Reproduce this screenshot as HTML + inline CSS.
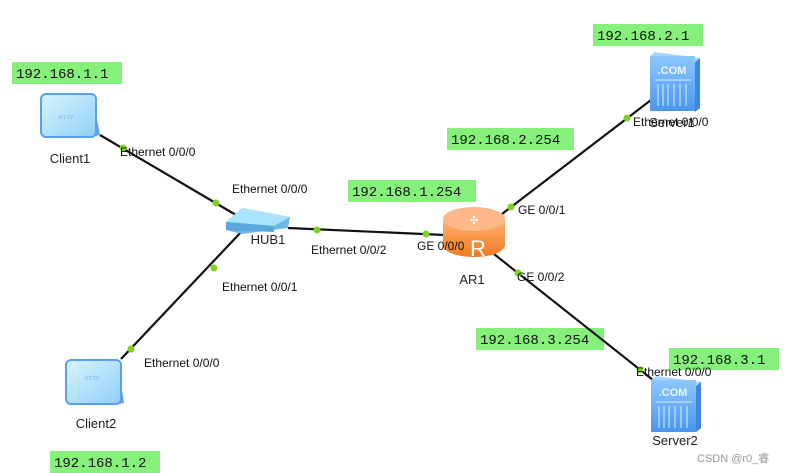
<!DOCTYPE html>
<html><head><meta charset="utf-8"><style>
html,body{margin:0;padding:0;background:#fff;}
svg{display:block;}
.l{font-family:"Liberation Sans",sans-serif;font-size:12px;fill:#111;}
.n{font-family:"Liberation Sans",sans-serif;font-size:13px;fill:#222;}
.ip{font-family:"Liberation Mono",monospace;font-size:14px;fill:#111;}
</style></head><body>
<svg width="785" height="473" viewBox="0 0 785 473" xmlns="http://www.w3.org/2000/svg">
<defs>
<linearGradient id="cl" x1="0" y1="0" x2="1" y2="1"><stop offset="0" stop-color="#d8f4ff"/><stop offset="1" stop-color="#8fd0f5"/></linearGradient>
<linearGradient id="sv" x1="0" y1="0" x2="0" y2="1"><stop offset="0" stop-color="#8cc8ff"/><stop offset="1" stop-color="#4a96ee"/></linearGradient>
<linearGradient id="rt" x1="0" y1="0" x2="0" y2="1"><stop offset="0" stop-color="#ffb070"/><stop offset="1" stop-color="#f07a20"/></linearGradient>
</defs>
<!-- IP boxes -->
<g fill="#85f07a">
<rect x="12" y="62" width="110" height="22"/>
<rect x="593" y="24" width="110" height="22"/>
<rect x="447" y="128" width="127" height="22"/>
<rect x="348" y="180" width="128" height="22"/>
<rect x="476" y="328" width="128" height="22"/>
<rect x="669" y="348" width="110" height="22"/>
<rect x="50" y="451" width="110" height="22"/>
</g>
<text class="ip" x="16" y="78">192.168.1.1</text>
<text class="ip" x="597" y="40">192.168.2.1</text>
<text class="ip" x="451" y="144">192.168.2.254</text>
<text class="ip" x="352" y="196">192.168.1.254</text>
<text class="ip" x="480" y="344">192.168.3.254</text>
<text class="ip" x="673" y="364">192.168.3.1</text>
<text class="ip" x="54" y="467">192.168.1.2</text>
<!-- lines -->
<g stroke="#111" stroke-width="2.2">
<line x1="100" y1="135" x2="236" y2="215"/>
<line x1="288" y1="228" x2="445" y2="235"/>
<line x1="243" y1="230" x2="121" y2="359"/>
<line x1="502" y1="214" x2="651" y2="100"/>
<line x1="494" y1="254" x2="653" y2="380"/>
</g>
<!-- dots -->
<g fill="#7ed321">
<circle cx="123" cy="148" r="3.5"/><circle cx="216" cy="203" r="3.5"/>
<circle cx="317" cy="230" r="3.5"/><circle cx="426" cy="234" r="3.5"/>
<circle cx="214" cy="268" r="3.5"/><circle cx="131" cy="349" r="3.5"/>
<circle cx="511" cy="207" r="3.5"/><circle cx="627" cy="118" r="3.5"/>
<circle cx="518" cy="273" r="3.5"/><circle cx="640" cy="370" r="3.5"/>
</g>
<!-- Client1 -->
<g>
<path d="M92 94 L100 135 L90 137 Z" fill="#5aa0ee"/>
<rect x="41" y="94" width="55" height="43" rx="5" fill="url(#cl)" stroke="#5aa0ee" stroke-width="2"/>
<text x="66" y="119" font-family="Liberation Serif,serif" font-size="6" fill="#7ab8e8" text-anchor="middle">HTTP</text>
</g>
<text class="n" x="70" y="163" text-anchor="middle">Client1</text>
<!-- Client2 -->
<g>
<path d="M117 358 L124 403 L114 405 Z" fill="#5aa0ee"/>
<rect x="66" y="360" width="55" height="44" rx="5" fill="url(#cl)" stroke="#5aa0ee" stroke-width="2"/>
<text x="92" y="380" font-family="Liberation Serif,serif" font-size="6" fill="#7ab8e8" text-anchor="middle">HTTP</text>
</g>
<text class="n" x="96" y="428" text-anchor="middle">Client2</text>
<!-- HUB -->
<g>
<polygon points="226,222 242,208 290,217 288,228 242,234 226,230" fill="#6fb8e8"/>
<polygon points="226,222 242,208 290,217 274,226" fill="#a8e4fb"/>
<polygon points="226,222 274,226 274,232 226,230" fill="#5aa6dd"/>
</g>
<text class="n" x="268" y="244" text-anchor="middle">HUB1</text>
<!-- Router -->
<g>
<path d="M443 220 L443 245 A31 12 0 0 0 505 245 L505 220 Z" fill="url(#rt)"/>
<ellipse cx="474" cy="219" rx="31" ry="12" fill="#ffb88a"/>
<text x="474" y="224" font-family="Liberation Sans,sans-serif" font-size="11" fill="#fff" text-anchor="middle">✣</text>
<text x="478" y="256" font-family="Liberation Sans,sans-serif" font-size="22" fill="#fff" text-anchor="middle">R</text>
</g>
<text class="n" x="472" y="284" text-anchor="middle">AR1</text>
<!-- Server1 -->
<g>
<polygon points="650,56 655,52 700,58 695,62" fill="#aad4ff"/>
<polygon points="695,62 700,58 700,108 695,112" fill="#3e86e0"/>
<rect x="650" y="56" width="45" height="55" fill="url(#sv)"/>
<text x="672" y="74" font-family="Liberation Sans,sans-serif" font-size="11" font-weight="bold" fill="#eef6ff" text-anchor="middle">.COM</text>
<g stroke="#d8ecff" stroke-width="1"><line x1="655" y1="80" x2="691" y2="80"/><line x1="658" y1="84" x2="658" y2="106"/><line x1="663" y1="84" x2="663" y2="106"/><line x1="668" y1="84" x2="668" y2="106"/><line x1="674" y1="84" x2="674" y2="106"/><line x1="680" y1="84" x2="680" y2="106"/><line x1="686" y1="84" x2="686" y2="106"/></g>
</g>
<text class="n" x="672" y="127" text-anchor="middle" fill="#333">Server1</text>
<!-- Server2 -->
<g>
<polygon points="651,380 656,376 701,382 696,386" fill="#aad4ff"/>
<polygon points="696,386 701,382 701,428 696,432" fill="#3e86e0"/>
<rect x="651" y="380" width="45" height="52" fill="url(#sv)"/>
<text x="673" y="396" font-family="Liberation Sans,sans-serif" font-size="11" font-weight="bold" fill="#eef6ff" text-anchor="middle">.COM</text>
<g stroke="#d8ecff" stroke-width="1"><line x1="656" y1="402" x2="692" y2="402"/><line x1="659" y1="406" x2="659" y2="428"/><line x1="664" y1="406" x2="664" y2="428"/><line x1="669" y1="406" x2="669" y2="428"/><line x1="675" y1="406" x2="675" y2="428"/><line x1="681" y1="406" x2="681" y2="428"/><line x1="687" y1="406" x2="687" y2="428"/></g>
</g>
<text class="n" x="675" y="445" text-anchor="middle">Server2</text>
<!-- port labels -->
<text class="l" x="120" y="156">Ethernet 0/0/0</text>
<text class="l" x="232" y="193">Ethernet 0/0/0</text>
<text class="l" x="311" y="254">Ethernet 0/0/2</text>
<text class="l" x="417" y="250">GE 0/0/0</text>
<text class="l" x="222" y="291">Ethernet 0/0/1</text>
<text class="l" x="144" y="367">Ethernet 0/0/0</text>
<text class="l" x="518" y="214">GE 0/0/1</text>
<text class="l" x="517" y="281">GE 0/0/2</text>
<text class="l" x="633" y="126">Ethernet 0/0/0</text>
<text class="l" x="636" y="376">Ethernet 0/0/0</text>
<text x="697" y="462" font-family="Liberation Sans,'Noto Sans CJK SC',sans-serif" font-size="11" fill="#999">CSDN @r0_睿</text>
</svg>
</body></html>
